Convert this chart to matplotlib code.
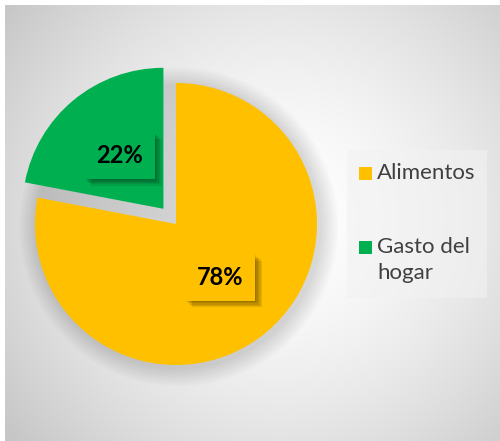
import numpy as np
import matplotlib
matplotlib.use('Agg')
import matplotlib.pyplot as plt
from matplotlib.patches import Rectangle, Circle
import matplotlib.patheffects as pe

# datos
categorias = ['Alimentos', 'Gasto del hogar']
etiquetas = ['Alimentos', 'Gasto del\nhogar']
valores = [78, 22]
colores = ['#FFC000', '#00B050']
explode = [0, 0.14]

W, H = 500, 441
fig = plt.figure(figsize=(W / 100, H / 100), dpi=100)
fig.patch.set_facecolor('white')

# fondo con gradiente radial
bg = fig.add_axes([5 / W, 0, 495 / W, 436 / H])
yy, xx = np.mgrid[0:436, 0:495]
r = np.hypot(xx - 275, yy - 212) / 345.0
g = 1 - 0.22 * np.clip(r, 0, 1) ** 1.6
bg.imshow(np.dstack([g, g, g]), aspect='auto', extent=(0, 1, 0, 1))
bg.set_axis_off()

# pastel
S = 175
R = 141
cx, cy = 176, 224
ax = fig.add_axes([(cx - S) / W, (H - cy - S) / H, 2 * S / W, 2 * S / H])
ax.patch.set_alpha(0)

# halo suave alrededor del pastel
for i in range(12):
    ax.add_patch(Circle((0.02, -0.02), 1.0 + 0.011 * (i + 1), facecolor='black',
                        edgecolor='none', alpha=0.012, zorder=0))

wedges, _, autot = ax.pie(valores, explode=explode, colors=colores,
                          startangle=90, counterclock=False,
                          autopct='%1.0f%%', pctdistance=0.49,
                          wedgeprops=dict(linewidth=0))
for w in wedges:
    w.set_zorder(2)
sombras = [pe.SimplePatchShadow(offset=(k, -k), shadow_rgbFace='black', alpha=0.09)
           for k in (1, 2, 3, 4, 5)]
for t, c in zip(autot, colores):
    t.set_fontfamily('Lato')
    t.set_fontweight('bold')
    t.set_fontsize(17)
    t.set_color('black')
    t.set_zorder(5)
    t.set_bbox(dict(boxstyle='square,pad=0.5', facecolor=c, edgecolor='none'))
    t.get_bbox_patch().set_path_effects(sombras + [pe.Normal()])

ax.set_xlim(-S / R, S / R)
ax.set_ylim(-S / R, S / R)

# leyenda manual
fig.patches.append(Rectangle((347 / W, 1 - 298 / H), 140 / W, 148 / H,
                             transform=fig.transFigure, facecolor='#f2f2f2',
                             edgecolor='none', alpha=0.6, zorder=1))
ys = [173, 247]
for lab, c, y in zip(etiquetas, colores, ys):
    fig.patches.append(Rectangle((359 / W, 1 - (y + 6.5) / H), 13 / W, 13 / H,
                                 transform=fig.transFigure, facecolor=c,
                                 edgecolor='none', zorder=2))
    fig.text(377 / W, 1 - (y - 10) / H, lab, ha='left', va='top',
             fontsize=16, family='Lato', color='#404040',
             linespacing=1.35, zorder=3)

fig.savefig('out.png', dpi=100)
